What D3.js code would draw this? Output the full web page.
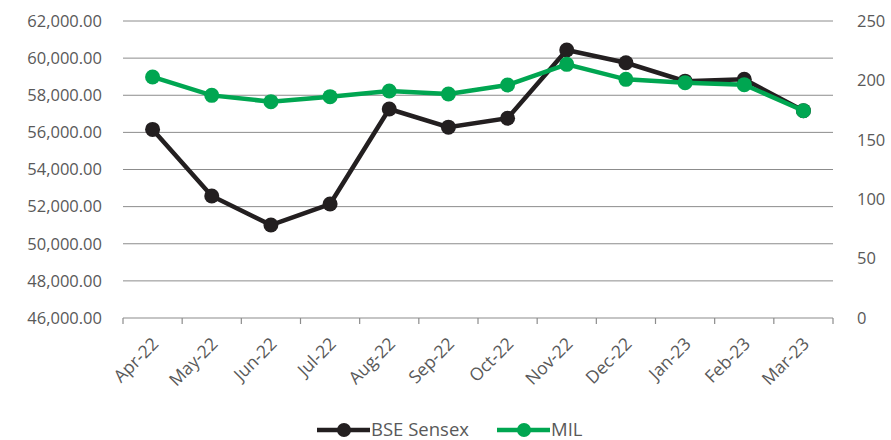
<!DOCTYPE html>
<html>
<head>
<meta charset="utf-8">
<script src="https://cdn.jsdelivr.net/npm/d3@7"></script>
<style>
  body { margin: 0; background: #fff; }
  text { font-family: "Open Sans", sans-serif; fill: #595959; }
</style>
</head>
<body>
<div id="chart"></div>
<script>
  // data
  var months = ['Apr-22','May-22','Jun-22','Jul-22','Aug-22','Sep-22','Oct-22','Nov-22','Dec-22','Jan-23','Feb-23','Mar-23'];
  var sensex = [56160, 52570, 51010, 52140, 57260, 56280, 56760, 60440, 59750, 58760, 58860, 57170];
  var mil = [202.9, 187.4, 182.1, 186.3, 191.1, 188.5, 196.1, 213.5, 200.9, 198.1, 196.4, 174.5];
  var leftTicks = [46000, 48000, 50000, 52000, 54000, 56000, 58000, 60000, 62000];
  var rightTicks = [0, 50, 100, 150, 200, 250];

  var W = 891, H = 440;
  var m = { top: 21, left: 123, right: 58, bottom: 122 };
  var pw = W - m.left - m.right, ph = H - m.top - m.bottom;

  var svg = d3.select('#chart').append('svg')
    .attr('width', W)
    .attr('height', H);

  var g = svg.append('g').attr('transform', 'translate(' + m.left + ',' + m.top + ')');

  var x = d3.scaleBand().domain(months).range([0, pw]);
  var yL = d3.scaleLinear().domain([46000, 62000]).range([ph, 0]);
  var yR = d3.scaleLinear().domain([0, 250]).range([ph, 0]);

  // gridlines
  g.selectAll('.grid').data(leftTicks.slice(1)).enter().append('line')
    .attr('x1', 0).attr('x2', pw)
    .attr('y1', function(d){ return yL(d); })
    .attr('y2', function(d){ return yL(d); })
    .attr('stroke', '#8c8c8c')
    .attr('stroke-width', 1);

  // left axis labels
  var fmt = d3.format(',.2f');
  g.selectAll('.ly').data(leftTicks).enter().append('text')
    .attr('x', -21)
    .attr('y', function(d){ return yL(d); })
    .attr('dy', '0.35em')
    .attr('text-anchor', 'end')
    .style('font-size', '16.5px')
    .text(function(d){ return fmt(d); });

  // right axis labels
  g.selectAll('.ry').data(rightTicks).enter().append('text')
    .attr('x', pw + 24)
    .attr('y', function(d){ return yR(d); })
    .attr('dy', '0.35em')
    .attr('text-anchor', 'start')
    .style('font-size', '16.5px')
    .text(function(d){ return d; });

  // x axis
  var xAxis = g.append('g')
    .attr('transform', 'translate(0,' + ph + ')');
  xAxis.append('line')
    .attr('x1', 0).attr('x2', pw)
    .attr('stroke', '#8c8c8c').attr('stroke-width', 1.2);
  var bounds = d3.range(months.length + 1).map(function(i){ return i * x.step(); });
  xAxis.selectAll('.tick').data(bounds).enter().append('line')
    .attr('x1', function(d){ return d; }).attr('x2', function(d){ return d; })
    .attr('y1', 0).attr('y2', 6)
    .attr('stroke', '#8c8c8c').attr('stroke-width', 1.2);
  xAxis.selectAll('.xl').data(months).enter().append('text')
    .attr('transform', function(d){
      return 'translate(' + (x(d) + x.bandwidth() / 2 + 7) + ',27) rotate(-45)';
    })
    .attr('text-anchor', 'end')
    .style('font-size', '17.5px')
    .text(function(d){ return d; });

  var cx = function(d, i){ return x(months[i]) + x.bandwidth() / 2; };

  // series
  var series = [
    { name: 'BSE Sensex', values: sensex, scale: yL, color: '#231f20' },
    { name: 'MIL', values: mil, scale: yR, color: '#00a651' }
  ];

  series.forEach(function(s){
    var line = d3.line()
      .x(cx)
      .y(function(d){ return s.scale(d); });
    g.append('path')
      .attr('d', line(s.values))
      .attr('fill', 'none')
      .attr('stroke', s.color)
      .attr('stroke-width', 4.5);
    g.selectAll(null).data(s.values).enter().append('circle')
      .attr('cx', cx)
      .attr('cy', function(d){ return s.scale(d); })
      .attr('r', 7.5)
      .attr('fill', s.color);
  });

  // legend
  var legend = svg.append('g').attr('transform', 'translate(0,430)');
  var items = [
    { name: 'BSE Sensex', color: '#231f20', x: 317 },
    { name: 'MIL', color: '#00a651', x: 497 }
  ];
  items.forEach(function(it){
    legend.append('line')
      .attr('x1', it.x).attr('x2', it.x + 53)
      .attr('stroke', it.color).attr('stroke-width', 4.5);
    legend.append('circle')
      .attr('cx', it.x + 27).attr('r', 7)
      .attr('fill', it.color);
    legend.append('text')
      .attr('x', it.x + 54)
      .attr('dy', '0.35em')
      .style('font-size', '18.5px')
      .text(it.name);
  });
</script>
</body>
</html>
